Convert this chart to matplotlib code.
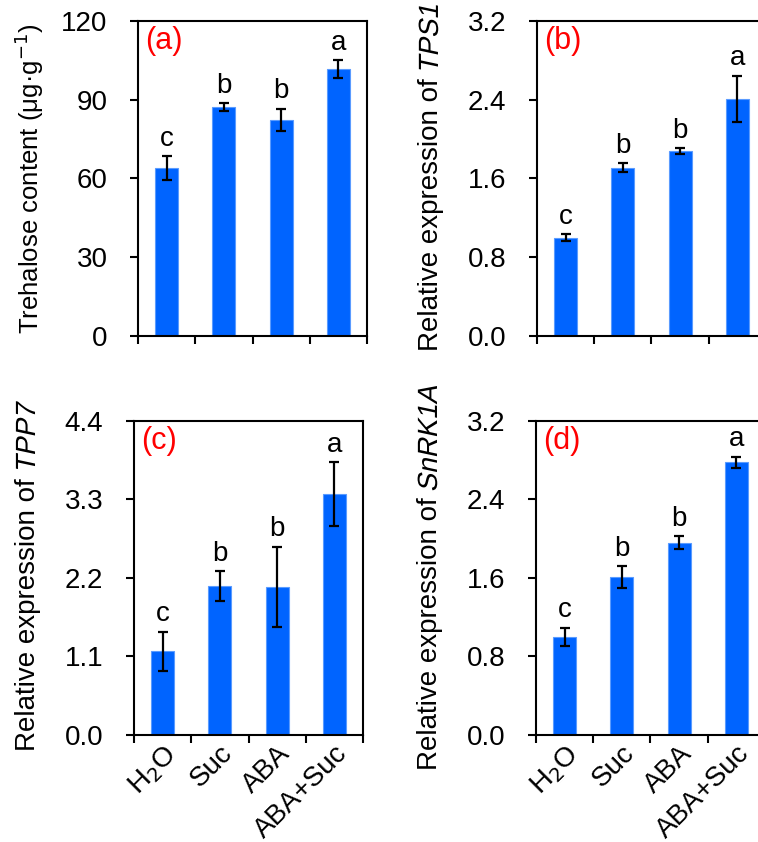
import matplotlib
matplotlib.use("Agg")
import matplotlib.pyplot as plt
import matplotlib.transforms as mtransforms
from matplotlib.font_manager import FontProperties
from matplotlib.patches import PathPatch
from matplotlib.textpath import TextPath
import numpy as np

plt.rcParams['font.family'] = 'Liberation Sans'

# treatments
treatments = ['H$_2$O', 'Suc', 'ABA', 'ABA+Suc']

# (a) trehalose content
trehalose = [64.0, 87.3, 82.4, 101.7]
trehalose_err = [4.4, 1.5, 4.2, 3.3]
trehalose_sig = ['c', 'b', 'b', 'a']

# (b) TPS1 expression
tps1 = [1.0, 1.71, 1.88, 2.41]
tps1_err = [0.035, 0.046, 0.03, 0.235]
tps1_sig = ['c', 'b', 'b', 'a']

# (c) TPP7 expression
tpp7 = [1.17, 2.09, 2.08, 3.38]
tpp7_err = [0.28, 0.21, 0.56, 0.45]
tpp7_sig = ['c', 'b', 'b', 'a']

# (d) SnRK1A expression
snrk1a = [1.0, 1.61, 1.96, 2.78]
snrk1a_err = [0.095, 0.11, 0.063, 0.057]
snrk1a_sig = ['c', 'b', 'b', 'a']

BAR_COLOR = '#0064FF'
TICK_SIZE = 20
TAG_SIZE = 22
DPI = 100


def side_label(ax, prefix, gene, size, offset=99):
    """
    Writes a vertical y label: a plain part followed by a slanted gene name,
    centred on the axes, with its baseline `offset` pixels left of the axis.
    The gene name is drawn as a sheared text path.
    """
    fig = ax.figure
    renderer = fig.canvas.get_renderer()
    box = ax.get_window_extent(renderer)
    px = size * DPI / 72

    head = fig.text(0, 0, prefix, rotation=90, rotation_mode='anchor',
                    ha='left', va='baseline', fontsize=size,
                    transform=mtransforms.IdentityTransform())
    head_len = head.get_window_extent(renderer).height

    total = head_len
    path = None
    gap = 0.0
    if gene:
        path = TextPath((0, 0), gene, size=px,
                        prop=FontProperties(family='Liberation Sans'))
        gap = 0.17 * px
        total += gap + path.get_extents().x1

    x = box.x0 - offset
    y = (box.y0 + box.y1) / 2 - total / 2
    head.set_position((x, y))

    if path is not None:
        tr = (mtransforms.Affine2D().skew_deg(12, 0).rotate_deg(90)
              .translate(x, y + head_len + gap))
        fig.add_artist(PathPatch(path, transform=tr, facecolor='black',
                                 edgecolor='none'))


def panel(ax, values, errors, letters, ymax, yticks, tag, xlabels):
    """
    Draws one bar panel with error bars and significance letters.
    """
    x = np.arange(len(values)) + 0.5
    ax.bar(x, values, width=0.4, color=BAR_COLOR, edgecolor='#5A9BFF',
           linewidth=0.8, zorder=2)
    ax.errorbar(x, values, yerr=errors, fmt='none', ecolor='black',
                elinewidth=1.6, capsize=3.5, capthick=1.6, zorder=3)

    for xi, v, e, s in zip(x, values, errors, letters):
        ax.annotate(s, (xi, v + e), xytext=(0, 3), textcoords='offset points',
                    ha='center', va='bottom', fontsize=TICK_SIZE)

    ax.set_xlim(0, len(values))
    ax.set_ylim(0, ymax)
    ax.set_yticks(yticks)
    ax.set_yticklabels([f"{t:g}" if ymax > 10 else f"{t:.1f}" for t in yticks])

    # major ticks mark the group boundaries, minor ticks carry the labels
    ax.set_xticks(np.arange(len(values) + 1))
    ax.set_xticklabels([])
    ax.set_xticks(x, minor=True)
    ax.tick_params(axis='x', which='minor', length=0)
    if xlabels:
        ax.set_xticklabels(treatments, minor=True, rotation=45, ha='right',
                           rotation_mode='anchor', fontsize=TICK_SIZE)
    ax.tick_params(axis='x', which='minor', pad=4)

    ax.tick_params(axis='both', which='major', direction='out', length=6,
                   width=1.5, labelsize=TICK_SIZE)
    ax.tick_params(axis='y', which='major', pad=16)
    for sp in ax.spines.values():
        sp.set_linewidth(1.5)

    ax.text(0.03, 0.985, tag, transform=ax.transAxes, color='red',
            fontsize=TAG_SIZE, ha='left', va='top')


fig = plt.figure(figsize=(7.58, 8.42), dpi=DPI)

ax_a = fig.add_axes([0.1821, 0.6010, 0.3021, 0.3741])
ax_b = fig.add_axes([0.7084, 0.6010, 0.3021, 0.3741])
ax_c = fig.add_axes([0.1768, 0.1271, 0.3021, 0.3729])
ax_d = fig.add_axes([0.7071, 0.1271, 0.3021, 0.3729])

panel(ax_a, trehalose, trehalose_err, trehalose_sig, 120, [0, 30, 60, 90, 120],
      '(a)', False)
panel(ax_b, tps1, tps1_err, tps1_sig, 3.2, [0, 0.8, 1.6, 2.4, 3.2],
      '(b)', False)
panel(ax_c, tpp7, tpp7_err, tpp7_sig, 4.4, [0, 1.1, 2.2, 3.3, 4.4],
      '(c)', True)
panel(ax_d, snrk1a, snrk1a_err, snrk1a_sig, 3.2, [0, 0.8, 1.6, 2.4, 3.2],
      '(d)', True)

side_label(ax_a, 'Trehalose content (μg·g$^{-1}$)', None, 18.5)
side_label(ax_b, 'Relative expression of', 'TPS1', 20)
side_label(ax_c, 'Relative expression of', 'TPP7', 20)
side_label(ax_d, 'Relative expression of', 'SnRK1A', 20)

plt.savefig('out.png', dpi=DPI)
